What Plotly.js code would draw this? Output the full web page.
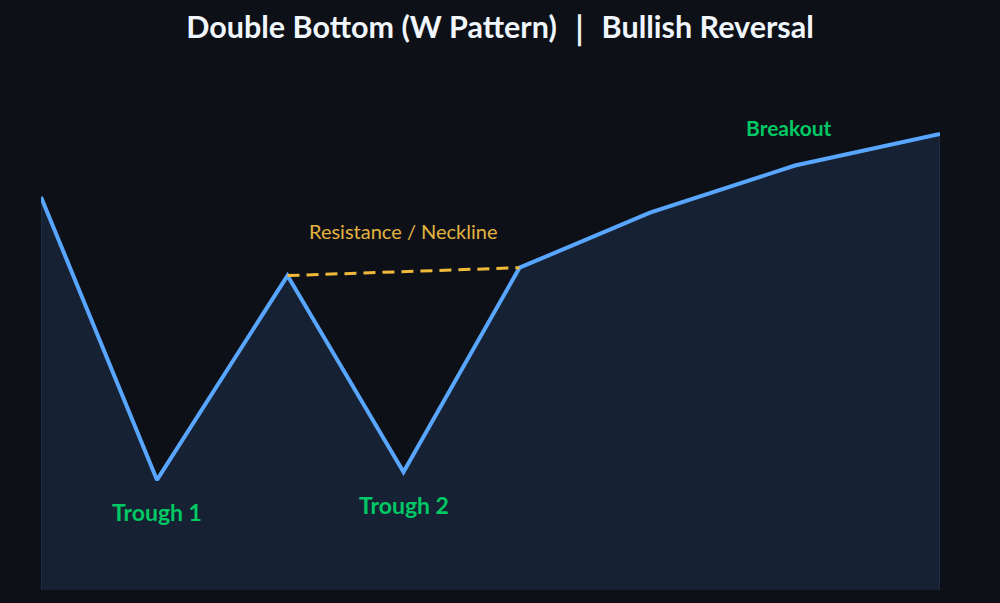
<!DOCTYPE html>
<html>
<head>
<meta charset="utf-8">
<script src="https://cdn.plot.ly/plotly-3.0.1.min.js"></script>
<style>html,body{margin:0;padding:0;background:#0d1117;}#chart{width:1000px;height:603px;}</style>
</head>
<body>
<div id="chart"></div>
<script>
// Data
const timeSteps = [0, 8, 17, 25, 33, 42, 52, 62];
const prices = [100, 28, 80, 30, 82, 96, 108, 116];
const necklineX = [17, 33];
const necklineY = [80, 82];
const labels = ["Trough 1", "Trough 2", "Breakout", "Resistance / Neckline"];

const fillX = [timeSteps[0]].concat(timeSteps, [timeSteps[timeSteps.length - 1]]);
const fillY = [0].concat(prices, [0]);

const FONT = "Lato, 'Open Sans', sans-serif";

const traces = [
  {
    x: fillX, y: fillY, type: 'scatter', mode: 'lines', fill: 'toself',
    fillcolor: 'rgba(88,166,255,0.12)',
    line: {color: 'rgba(88,166,255,0.16)', width: 1},
    hoverinfo: 'skip', showlegend: false
  },
  {
    x: timeSteps, y: prices, type: 'scatter', mode: 'lines',
    line: {color: '#58a6ff', width: 4},
    showlegend: false
  },
  {
    x: necklineX, y: necklineY, type: 'scatter', mode: 'lines',
    line: {color: '#f0b93a', width: 3, dash: '12px,7px'},
    showlegend: false
  }
];

const layout = {
  width: 1000, height: 603,
  paper_bgcolor: '#0d1117', plot_bgcolor: '#0d1117',
  margin: {l: 41, r: 60, t: 70, b: 13},
  title: {
    text: 'Double Bottom (W Pattern) ｜ Bullish Reversal',
    font: {family: FONT, size: 30.5, color: '#f0f6fc', weight: 'bold'},
    x: 0.5, xanchor: 'center', y: 0.955, yanchor: 'middle'
  },
  xaxis: {range: [timeSteps[0], timeSteps[timeSteps.length - 1]], visible: false, fixedrange: true},
  yaxis: {range: [0, 132.3], visible: false, fixedrange: true},
  showlegend: false,
  annotations: [
    {x: timeSteps[1], y: prices[1], text: '<b>' + labels[0] + '</b>', showarrow: false, yshift: -32,
     font: {family: FONT, size: 23, color: '#00c864'}},
    {x: timeSteps[3], y: prices[3], text: '<b>' + labels[1] + '</b>', showarrow: false, yshift: -33,
     font: {family: FONT, size: 23, color: '#00c864'}},
    {x: timeSteps[6], y: prices[6], text: '<b>' + labels[2] + '</b>', showarrow: false, yshift: 38, xshift: -6,
     font: {family: FONT, size: 21, color: '#00c864'}},
    {x: (necklineX[0] + necklineX[1]) / 2, y: (necklineY[0] + necklineY[1]) / 2, text: labels[3], showarrow: false, yshift: 41,
     font: {family: FONT, size: 20, color: '#e3b341'}}
  ]
};

Plotly.newPlot('chart', traces, layout, {displayModeBar: false, staticPlot: true});
</script>
</body>
</html>
